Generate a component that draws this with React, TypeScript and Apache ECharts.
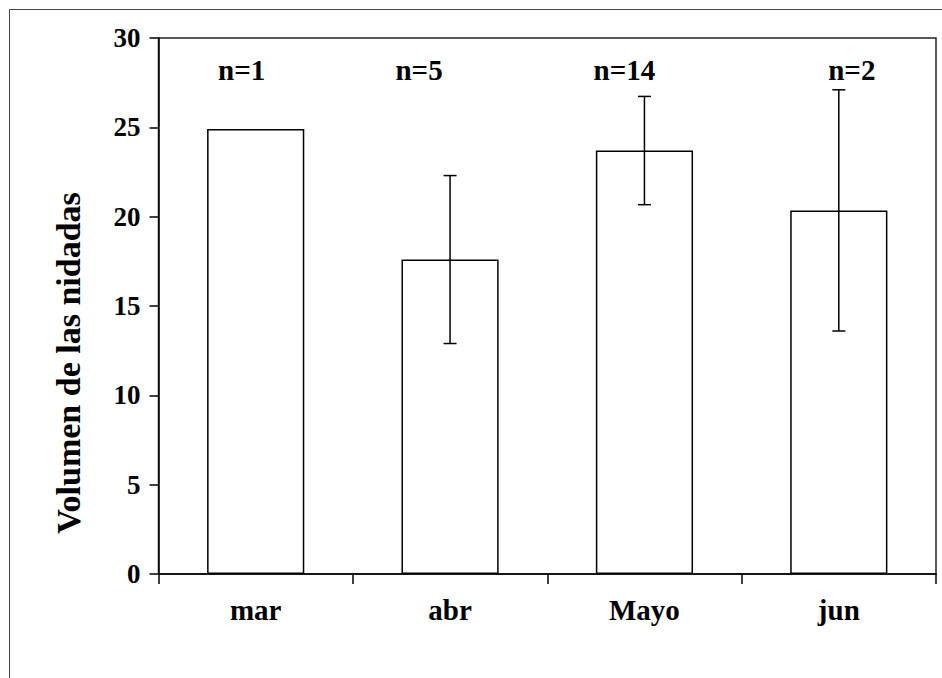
import React, { useEffect, useRef } from "react";
import * as echarts from "echarts";

const categories = ["mar", "abr", "Mayo", "jun"];
const means = [24.9, 17.6, 23.7, 20.35];
const sds: (number | null)[] = [null, 4.7, 3.03, 6.75];
const nLabels = ["n=1", "n=5", "n=14", "n=2"];
const nLabelLevel = 28.2;
const yTitle = "Volumen de las nidadas";

const FONT = "Liberation Serif";
const nLabelOffsets = [-14, -31, -20, 13];

export default function App() {
  const ref = useRef<HTMLDivElement>(null);
  useEffect(() => {
    if (!ref.current) return;
    const chart = echarts.init(ref.current, undefined, { renderer: "svg" });
    const errData = means
      .map((m, i) => (sds[i] == null ? null : [i, m - (sds[i] as number), m + (sds[i] as number)]))
      .filter((d) => d !== null);
    chart.setOption({
      animation: false,
      backgroundColor: "#fff",
      textStyle: { fontFamily: FONT },
      grid: {
        left: 158.5,
        right: 6,
        top: 38,
        bottom: 104,
        show: true,
        borderColor: "#222",
        borderWidth: 1.5,
        backgroundColor: "transparent",
      },
      graphic: [
        {
          type: "rect",
          shape: { x: 9.5, y: 9.5, width: 1200, height: 1200 },
          style: { fill: "none", stroke: "#444", lineWidth: 1 },
          silent: true,
        },
        {
          type: "text",
          x: 68.5,
          y: 363,
          rotation: Math.PI / 2,
          style: {
            text: yTitle,
            font: "bold 34px " + FONT,
            fill: "#000",
            textAlign: "center",
            textVerticalAlign: "middle",
          },
        },
      ],
      xAxis: {
        type: "category",
        data: categories,
        boundaryGap: true,
        axisLine: { lineStyle: { color: "#000", width: 1.5 } },
        axisTick: { show: true, length: 10, inside: false, alignWithLabel: false, interval: 0, lineStyle: { color: "#000", width: 1.5 } },
        axisLabel: {
          interval: 0,
          margin: 21,
          fontFamily: FONT,
          fontWeight: "bold",
          fontSize: 29,
          color: "#000",
        },
        splitLine: { show: false },
      },
      yAxis: {
        type: "value",
        min: 0,
        max: 30,
        interval: 5,
        axisLine: { show: true, lineStyle: { color: "#000", width: 1.5 } },
        axisTick: { show: true, length: 9, inside: false, lineStyle: { color: "#000", width: 1.5 } },
        axisLabel: {
          margin: 18,
          fontFamily: FONT,
          fontWeight: "bold",
          fontSize: 27,
          color: "#000",
        },
        splitLine: { show: false },
      },
      series: [
        {
          type: "bar",
          data: means,
          barWidth: "50%",
          itemStyle: { color: "#fff", borderColor: "#000", borderWidth: 1.5 },
          z: 2,
        },
        {
          type: "custom",
          z: 3,
          data: errData,
          renderItem: (params: any, api: any) => {
            const i = api.value(0);
            const lo = api.coord([i, api.value(1)]);
            const hi = api.coord([i, api.value(2)]);
            const half = 6.5;
            const style = { stroke: "#000", lineWidth: 1.5 };
            return {
              type: "group",
              children: [
                { type: "line", shape: { x1: lo[0], y1: lo[1], x2: hi[0], y2: hi[1] }, style },
                { type: "line", shape: { x1: lo[0] - half, y1: lo[1], x2: lo[0] + half, y2: lo[1] }, style },
                { type: "line", shape: { x1: hi[0] - half, y1: hi[1], x2: hi[0] + half, y2: hi[1] }, style },
              ],
            };
          },
        },
        {
          type: "scatter",
          symbolSize: 0,
          z: 4,
          itemStyle: { opacity: 1, color: "#000" },
          label: {
            show: true,
            position: "inside",
            fontFamily: FONT,
            fontWeight: "bold",
            fontSize: 29,
            color: "#000",
            formatter: (p: any) => nLabels[p.dataIndex],
          },
          data: nLabels.map((_, i) => ({
            value: [i, nLabelLevel],
            label: { offset: [nLabelOffsets[i], 0] },
          })),
        },
      ],
    });
    return () => chart.dispose();
  }, []);
  return (
    <div
      ref={ref}
      style={{ position: "fixed", left: 0, top: 0, width: 942, height: 678 }}
    />
  );
}
